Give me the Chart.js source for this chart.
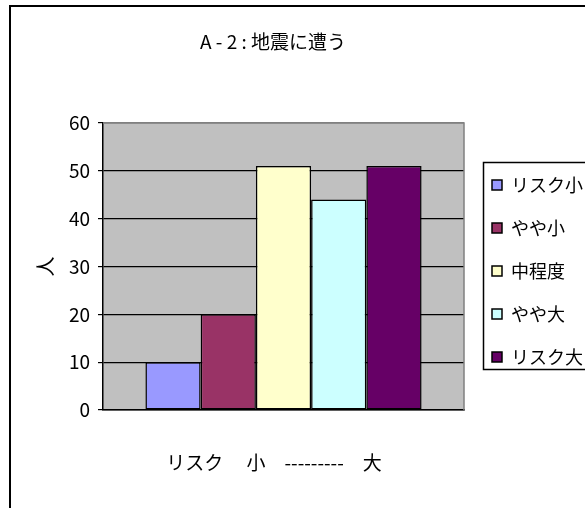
<!DOCTYPE html>
<html>
<head>
<meta charset="utf-8">
<script src="https://cdn.jsdelivr.net/npm/chart.js@4"></script>
<style>
  html, body { margin: 0; padding: 0; background: #fff; overflow: hidden; }
  #wrap { width: 585px; height: 508px; }
</style>
</head>
<body>
<div id="wrap"><canvas id="chart" width="585" height="508"></canvas></div>
<script>
const titleText = 'A - 2 : 地震に遭う';
const categories = [''];
const seriesNames = ['リスク小', 'やや小', '中程度', 'やや大', 'リスク大'];
const seriesValues = [10, 20, 51, 44, 51];
const seriesColors = ['#9999FF', '#993366', '#FFFFCC', '#CCFFFF', '#660066'];
const yTitle = '人';
const xTitle = 'リスク　 小　---------　大　';

const FONT = '"Noto Sans CJK JP", "Noto Sans", sans-serif';

// grey plot area, outer frame, title and the boxed legend
const excelLook = {
  id: 'excelLook',
  beforeDraw(chart) {
    const { ctx, chartArea: a } = chart;
    ctx.save();
    ctx.fillStyle = '#fff';
    ctx.fillRect(0, 0, chart.width, chart.height);
    ctx.fillStyle = '#C0C0C0';
    ctx.fillRect(a.left, a.top, a.right - a.left, a.bottom - a.top);
    ctx.restore();
  },
  afterDraw(chart) {
    const { ctx, chartArea: a } = chart;
    ctx.save();
    ctx.strokeStyle = '#808080';
    ctx.lineWidth = 1.5;
    ctx.beginPath();
    ctx.moveTo(a.left, a.top);
    ctx.lineTo(a.right, a.top);
    ctx.lineTo(a.right, a.bottom);
    ctx.stroke();

    ctx.strokeStyle = '#000';
    ctx.lineWidth = 2;
    ctx.strokeRect(10, 6, 800, 800);

    // title
    ctx.fillStyle = '#000';
    ctx.font = '19px ' + FONT;
    ctx.textAlign = 'center';
    ctx.textBaseline = 'middle';
    ctx.fillText(titleText, 273, 42);

    // legend
    ctx.lineWidth = 1.5;
    ctx.strokeRect(483.5, 162.5, 200, 207);
    ctx.font = '18px ' + FONT;
    ctx.textAlign = 'left';
    chart.data.datasets.forEach((ds, i) => {
      const y = 185 + i * 43;
      ctx.fillStyle = ds.backgroundColor;
      ctx.fillRect(492, y - 5, 10, 10);
      ctx.lineWidth = 1.5;
      ctx.strokeStyle = '#000';
      ctx.strokeRect(492, y - 5, 10, 10);
      ctx.fillStyle = '#000';
      ctx.fillText(ds.label, 511, y);
    });
    ctx.restore();
  }
};

const ctx = document.getElementById('chart').getContext('2d');
new Chart(ctx, {
  type: 'bar',
  data: {
    labels: categories,
    datasets: seriesNames.map((name, i) => ({
      label: name,
      data: [seriesValues[i]],
      backgroundColor: seriesColors[i],
      borderColor: '#000',
      borderWidth: 1.5,
      borderSkipped: false
    }))
  },
  options: {
    responsive: false,
    animation: false,
    layout: { padding: { left: 10, right: 121, top: 123, bottom: 0 } },
    datasets: { bar: { categoryPercentage: 0.765, barPercentage: 1 } },
    plugins: {
      legend: { display: false },
      tooltip: { enabled: false },
      title: { display: false }
    },
    scales: {
      x: {
        afterFit(scale) { scale.height = 98; },
        grid: { display: true, drawOnChartArea: false, drawTicks: false },
        border: { display: true, color: '#000', width: 1.5 },
        ticks: { display: false },
        title: {
          display: true,
          text: xTitle,
          color: '#000',
          font: { family: FONT, size: 19, weight: 'normal' },
          padding: { top: 0, bottom: 34 }
        }
      },
      y: {
        min: 0,
        max: 60,
        afterFit(scale) { scale.width = 93; },
        ticks: {
          stepSize: 10,
          color: '#000',
          padding: 8,
          font: { family: FONT, size: 19 }
        },
        grid: {
          color: c => (c.tick && c.tick.value === 60 ? '#808080' : '#000'),
          lineWidth: 1.2,
          tickLength: 5,
          tickColor: '#000'
        },
        border: { display: true, color: '#000', width: 1.5 },
        title: {
          display: true,
          text: yTitle,
          color: '#000',
          font: { family: FONT, size: 20, weight: 'normal' },
          padding: { top: 23, bottom: 0 }
        }
      }
    }
  },
  plugins: [excelLook]
});
</script>
</body>
</html>
